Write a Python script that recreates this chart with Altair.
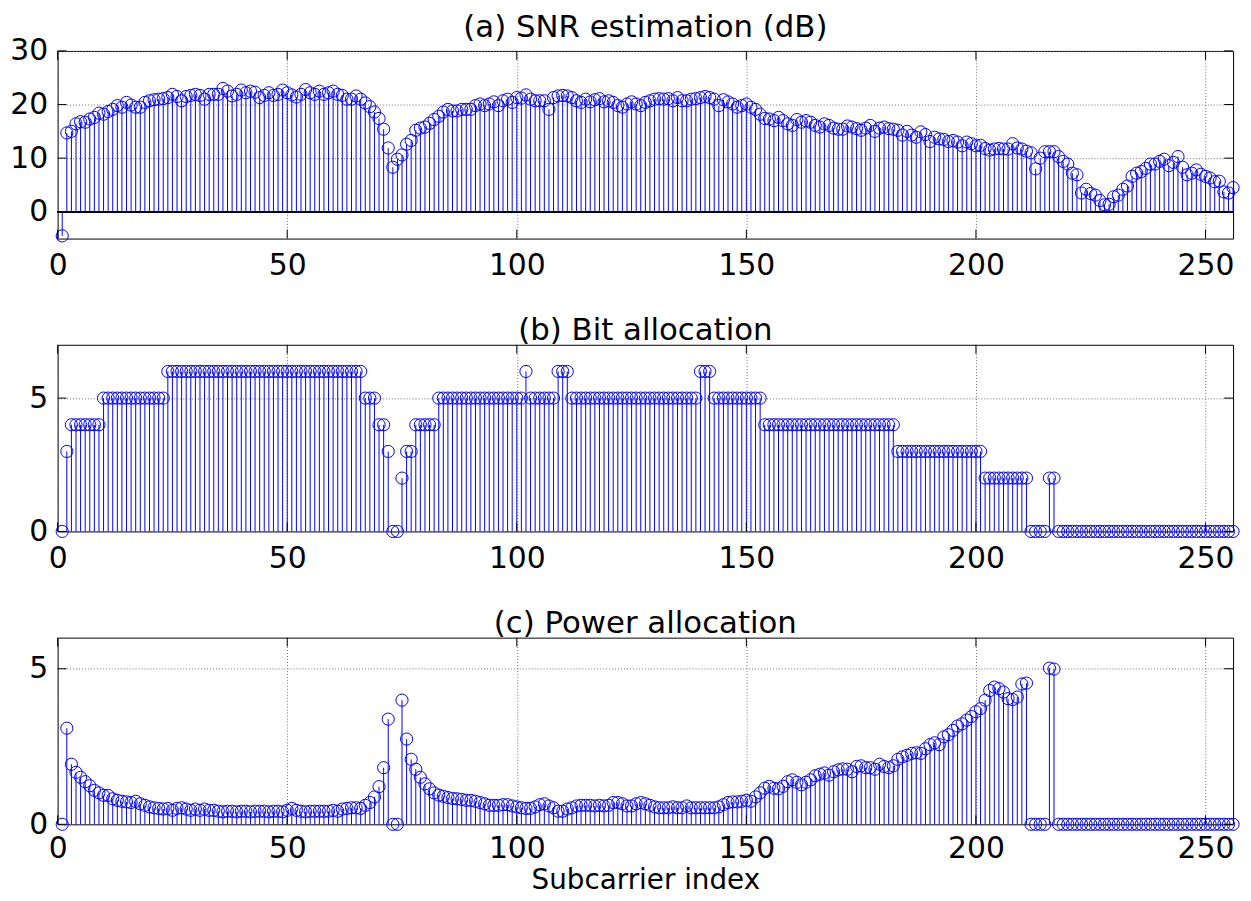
import altair as alt
import pandas as pd

# ---------------- data ----------------
subcarrier = list(range(1, 257))

snr_db = [
    -4.5, 14.7, 15.0, 16.4, 16.8, 16.7, 17.3, 17.6, 18.4, 18.2, 18.7, 19.1, 19.8, 19.5, 20.4, 19.9,
    19.5, 19.5, 20.4, 20.7, 20.9, 21.0, 21.1, 21.3, 21.9, 21.5, 20.7, 21.5, 21.7, 21.9, 21.7, 21.0,
    21.9, 21.9, 21.9, 23.0, 22.5, 21.6, 21.9, 22.7, 22.2, 22.5, 22.3, 21.3, 21.7, 22.2, 21.7, 21.9,
    22.7, 22.2, 21.8, 21.4, 21.9, 22.8, 22.2, 21.9, 22.5, 21.9, 22.2, 22.5, 21.9, 21.7, 21.0, 21.0,
    21.6, 21.0, 20.3, 19.6, 18.6, 17.4, 15.4, 11.9, 8.3, 9.8, 10.6, 12.6, 13.3, 15.2, 15.6, 15.8,
    16.5, 17.2, 17.8, 18.6, 19.1, 18.8, 18.8, 19.1, 19.1, 19.1, 19.8, 20.1, 19.8, 20.1, 20.5, 19.8,
    20.7, 21.0, 20.4, 21.3, 21.2, 21.8, 21.0, 20.7, 20.7, 20.7, 19.1, 21.3, 21.6, 21.7, 21.6, 21.3,
    20.7, 20.4, 21.0, 20.5, 20.9, 21.1, 20.5, 20.7, 20.4, 19.8, 19.5, 20.1, 20.5, 20.1, 19.8, 20.4,
    20.7, 21.0, 21.1, 21.0, 21.1, 20.7, 21.3, 20.7, 20.7, 21.0, 21.1, 21.3, 21.5, 21.3, 21.0, 19.8,
    20.9, 20.5, 20.1, 19.5, 19.8, 20.1, 19.5, 19.1, 18.2, 17.4, 17.3, 17.0, 17.6, 17.0, 16.4, 16.1,
    17.2, 16.7, 17.0, 16.7, 16.1, 15.8, 16.4, 16.1, 15.6, 15.4, 15.4, 16.0, 15.8, 15.5, 15.2, 15.6,
    16.1, 15.0, 15.6, 15.8, 15.5, 15.4, 15.2, 14.3, 15.0, 14.3, 13.9, 14.9, 14.4, 13.1, 13.9, 13.6,
    13.5, 13.1, 13.3, 13.0, 12.3, 13.0, 12.7, 12.3, 12.4, 11.8, 11.5, 11.7, 11.8, 11.7, 11.7, 12.7,
    11.9, 11.7, 11.3, 11.0, 8.0, 10.0, 11.2, 11.2, 11.2, 10.3, 9.4, 8.9, 7.2, 6.9, 3.5, 4.2,
    3.4, 3.1, 2.1, 1.3, 1.4, 2.8, 3.1, 4.2, 4.8, 6.6, 7.2, 7.5, 8.1, 8.9, 8.9, 9.4,
    9.8, 8.6, 9.2, 10.3, 8.3, 6.9, 7.2, 7.8, 7.0, 6.6, 6.3, 5.6, 5.7, 3.7, 3.5, 4.5,
]

bit_alloc = [
    0, 3, 4, 4, 4, 4, 4, 4, 4, 5, 5, 5, 5, 5, 5, 5,
    5, 5, 5, 5, 5, 5, 5, 6, 6, 6, 6, 6, 6, 6, 6, 6,
    6, 6, 6, 6, 6, 6, 6, 6, 6, 6, 6, 6, 6, 6, 6, 6,
    6, 6, 6, 6, 6, 6, 6, 6, 6, 6, 6, 6, 6, 6, 6, 6,
    6, 6, 5, 5, 5, 4, 4, 3, 0, 0, 2, 3, 3, 4, 4, 4,
    4, 4, 5, 5, 5, 5, 5, 5, 5, 5, 5, 5, 5, 5, 5, 5,
    5, 5, 5, 5, 5, 6, 5, 5, 5, 5, 5, 5, 6, 6, 6, 5,
    5, 5, 5, 5, 5, 5, 5, 5, 5, 5, 5, 5, 5, 5, 5, 5,
    5, 5, 5, 5, 5, 5, 5, 5, 5, 5, 5, 6, 6, 6, 5, 5,
    5, 5, 5, 5, 5, 5, 5, 5, 5, 4, 4, 4, 4, 4, 4, 4,
    4, 4, 4, 4, 4, 4, 4, 4, 4, 4, 4, 4, 4, 4, 4, 4,
    4, 4, 4, 4, 4, 4, 3, 3, 3, 3, 3, 3, 3, 3, 3, 3,
    3, 3, 3, 3, 3, 3, 3, 3, 3, 2, 2, 2, 2, 2, 2, 2,
    2, 2, 2, 0, 0, 0, 0, 2, 2, 0, 0, 0, 0, 0, 0, 0,
    0, 0, 0, 0, 0, 0, 0, 0, 0, 0, 0, 0, 0, 0, 0, 0,
    0, 0, 0, 0, 0, 0, 0, 0, 0, 0, 0, 0, 0, 0, 0, 0,
]

power_alloc = [
    0, 3.09, 1.93, 1.67, 1.51, 1.37, 1.24, 1.09, 1.01, 0.93, 0.93, 0.82, 0.77, 0.74, 0.72, 0.70,
    0.74, 0.66, 0.61, 0.56, 0.53, 0.51, 0.49, 0.51, 0.45, 0.51, 0.53, 0.49, 0.45, 0.49, 0.45, 0.49,
    0.45, 0.45, 0.42, 0.40, 0.42, 0.42, 0.40, 0.42, 0.42, 0.40, 0.42, 0.42, 0.42, 0.40, 0.42, 0.42,
    0.40, 0.45, 0.51, 0.45, 0.42, 0.40, 0.42, 0.42, 0.42, 0.42, 0.42, 0.45, 0.42, 0.49, 0.51, 0.53,
    0.53, 0.51, 0.61, 0.70, 0.88, 1.21, 1.82, 3.38, 0, 0, 3.99, 2.74, 2.09, 1.77, 1.51, 1.30,
    1.14, 1.01, 0.94, 0.90, 0.86, 0.83, 0.82, 0.80, 0.77, 0.77, 0.74, 0.70, 0.66, 0.61, 0.61, 0.61,
    0.63, 0.63, 0.59, 0.56, 0.53, 0.51, 0.51, 0.56, 0.63, 0.66, 0.59, 0.53, 0.42, 0.42, 0.49, 0.53,
    0.59, 0.61, 0.61, 0.61, 0.59, 0.61, 0.59, 0.61, 0.70, 0.70, 0.66, 0.59, 0.59, 0.66, 0.70, 0.66,
    0.61, 0.56, 0.53, 0.53, 0.53, 0.56, 0.53, 0.53, 0.59, 0.53, 0.53, 0.53, 0.53, 0.53, 0.53, 0.56,
    0.63, 0.70, 0.72, 0.72, 0.74, 0.77, 0.74, 0.88, 1.01, 1.16, 1.22, 1.16, 1.14, 1.22, 1.37, 1.43,
    1.35, 1.27, 1.35, 1.43, 1.56, 1.61, 1.65, 1.58, 1.69, 1.75, 1.78, 1.77, 1.69, 1.86, 1.88, 1.82,
    1.82, 1.77, 1.93, 1.86, 1.82, 1.88, 2.09, 2.17, 2.22, 2.28, 2.30, 2.28, 2.43, 2.56, 2.62, 2.56,
    2.81, 2.88, 3.02, 3.16, 3.23, 3.35, 3.46, 3.62, 3.72, 3.99, 4.30, 4.41, 4.36, 4.25, 4.04, 4.01,
    4.09, 4.51, 4.54, 0, 0, 0, 0, 5.02, 4.99, 0, 0, 0, 0, 0, 0, 0,
    0, 0, 0, 0, 0, 0, 0, 0, 0, 0, 0, 0, 0, 0, 0, 0,
    0, 0, 0, 0, 0, 0, 0, 0, 0, 0, 0, 0, 0, 0, 0, 0,
]

x_domain = [0, 256]
x_ticks = [0, 50, 100, 150, 200, 250]
snr_domain = [-5, 30]
snr_ticks = [0, 10, 20, 30]
bit_domain = [0, 7]
bit_ticks = [0, 5]
pow_domain = [0, 6]
pow_ticks = [0, 5]
titles = ["(a) SNR estimation (dB)", "(b) Bit allocation", "(c) Power allocation"]
x_title = "Subcarrier index"

# ---------------- style ----------------
BLUE = "#0000ff"
FONT = "DejaVu Sans"
W = 1184
TICK = 9


def panel(values, ydom, yticks, title, h, label_pad=12, xtitle=None, baseline=False,
          title_offset=-3):
    df = pd.DataFrame({"k": subcarrier, "v": values})
    xs = alt.Scale(domain=x_domain, nice=False, zero=False)
    ys = alt.Scale(domain=ydom, nice=False, zero=False)
    ax_kwargs = dict(
        values=x_ticks, grid=True, ticks=False, domain=False,
        labelPadding=label_pad, labelFontSize=30, labelFont=FONT, labelColor="black",
        labelFlush=False, gridColor="#6e6e6e", gridDash=[1, 2], gridWidth=1, format="d",
    )
    if xtitle:
        xax = alt.Axis(title=xtitle, titleFont=FONT, titleFontSize=28, titleFontWeight="normal",
                       titleColor="black", titlePadding=4, **ax_kwargs)
    else:
        xax = alt.Axis(title=None, **ax_kwargs)
    yax = alt.Axis(values=yticks, grid=True, ticks=False, domain=False, title=None,
                   labelPadding=10, labelFontSize=30, labelFont=FONT, labelColor="black",
                   gridColor="#6e6e6e", gridDash=[1, 2], gridWidth=1, format="d")

    stems = alt.Chart(df).mark_rule(color=BLUE, strokeWidth=1).encode(
        x=alt.X("k:Q", scale=xs, axis=xax),
        y=alt.Y("v:Q", scale=ys, axis=yax),
        y2=alt.Y2Datum(0),
    )
    circles = alt.Chart(df).mark_point(shape="circle", filled=False, color=BLUE,
                                       size=150, strokeWidth=1, opacity=1).encode(
        x=alt.X("k:Q", scale=xs, axis=xax),
        y=alt.Y("v:Q", scale=ys, axis=yax),
    )
    layers = [stems]
    if baseline:
        base = alt.Chart(df).mark_rule(color="black", strokeWidth=1).encode(
            x=alt.XDatum(x_domain[0], scale=xs, axis=xax),
            x2=alt.X2Datum(x_domain[1]),
            y=alt.YDatum(0, scale=ys, axis=yax),
        )
        layers.append(base)
    layers.append(circles)

    xt = pd.DataFrame({"k": x_ticks})
    yt = pd.DataFrame({"v": yticks})
    tick_top = alt.Chart(xt).mark_rule(color="black", strokeWidth=1).encode(
        x=alt.X("k:Q", scale=xs, axis=xax), y=alt.value(0), y2=alt.value(TICK))
    tick_bot = alt.Chart(xt).mark_rule(color="black", strokeWidth=1).encode(
        x=alt.X("k:Q", scale=xs, axis=xax), y=alt.value(h), y2=alt.value(h - TICK))
    tick_left = alt.Chart(yt).mark_rule(color="black", strokeWidth=1).encode(
        y=alt.Y("v:Q", scale=ys, axis=yax), x=alt.value(0), x2=alt.value(TICK))
    tick_right = alt.Chart(yt).mark_rule(color="black", strokeWidth=1).encode(
        y=alt.Y("v:Q", scale=ys, axis=yax), x=alt.value(W - TICK), x2=alt.value(W))
    layers += [tick_top, tick_bot, tick_left, tick_right]

    return alt.layer(*layers).properties(
        width=W, height=h,
        title=alt.TitleParams(text=title, font=FONT, fontSize=31, fontWeight="normal",
                              color="black", anchor="middle", offset=title_offset,
                              frame="group"),
    )


a = panel(snr_db, snr_domain, snr_ticks, titles[0], 189, baseline=True, title_offset=-8)
b = panel(bit_alloc, bit_domain, bit_ticks, titles[1], 188)
c = panel(power_alloc, pow_domain, pow_ticks, titles[2], 188, label_pad=9, xtitle=x_title)

chart = alt.vconcat(a, b, c, spacing=34).properties(
    padding={"left": 1, "top": 0, "right": 1, "bottom": 0},
    background="white",
).configure_view(stroke="black", strokeWidth=1)

chart.save("out.html", embed_options={"renderer": "svg", "actions": False})
